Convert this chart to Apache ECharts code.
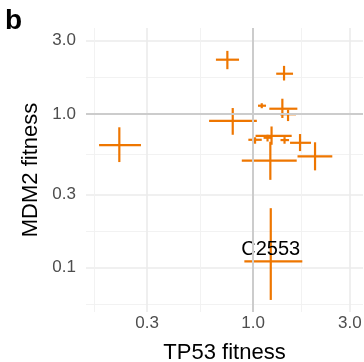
<!DOCTYPE html>
<html>
<head>
<meta charset="utf-8">
<script src="https://cdn.jsdelivr.net/npm/echarts@6/dist/echarts.min.js"></script>
<style>
  html, body { margin: 0; padding: 0; background: #fff; }
  #chart { width: 364px; height: 362px; }
</style>
</head>
<body>
<div id="chart"></div>
<script>
// fitness estimates with error bounds
var tp53   = [0.219, 0.747, 1.422, 1.104, 1.395, 1.488, 0.794, 1.234, 1.023, 1.179, 1.430, 1.705, 1.217, 2.022, 1.223];
var tp53Lo = [0.174, 0.656, 1.301, 1.058, 1.203, 1.359, 0.607, 1.029, 0.948, 1.127, 1.366, 1.522, 0.880, 1.657, 0.906];
var tp53Hi = [0.280, 0.853, 1.575, 1.159, 1.654, 1.629, 1.044, 1.551, 1.104, 1.241, 1.505, 1.932, 1.642, 2.460, 1.750];
var mdm2   = [0.628, 2.258, 1.830, 1.133, 1.083, 0.997, 0.904, 0.722, 0.680, 0.701, 0.677, 0.650, 0.498, 0.531, 0.110];
var mdm2Lo = [0.487, 1.958, 1.653, 1.091, 0.942, 0.900, 0.733, 0.631, 0.641, 0.663, 0.641, 0.574, 0.373, 0.430, 0.0617];
var mdm2Hi = [0.820, 2.577, 2.058, 1.176, 1.258, 1.067, 1.094, 0.830, 0.706, 0.733, 0.708, 0.741, 0.660, 0.655, 0.244];
var pointLabels = ["", "", "", "", "", "", "", "", "", "", "", "", "", "", "C2553"];

var xTicks = [0.3, 1, 3];
var yTicks = [0.1, 0.3, 1, 3];
var xRange = [0.150, 3.486];
var yRange = [0.0515, 3.63];

var FONT = "'Liberation Sans', Arial, Helvetica, sans-serif";
var ORANGE = "#EE7600";

var log10 = function (v) { return Math.log(v) / Math.LN10; };

// ggplot style minor breaks: midpoints between majors (log space)
function minorBreaks(major, lo, hi) {
  var b = major.filter(function (v) { return v >= lo && v <= hi; });
  var d = b[1] - b[0];
  if (lo < b[0]) b.unshift(b[0] - d);
  if (hi > b[b.length - 1]) b.push(b[b.length - 1] + d);
  var out = [];
  for (var i = 0; i < b.length - 1; i++) {
    var m = (b[i] + b[i + 1]) / 2;
    if (m >= lo && m <= hi) out.push(m);
  }
  return out;
}

var xMin = log10(xRange[0]), xMax = log10(xRange[1]);
var yMin = log10(yRange[0]), yMax = log10(yRange[1]);
var xMajor = xTicks.map(log10);
var yMajor = yTicks.map(log10);
var xMinor = minorBreaks(xMajor, xMin, xMax);
var yMinor = minorBreaks(yMajor, yMin, yMax);

var rows = tp53.map(function (v, i) {
  return [log10(v), log10(tp53Lo[i]), log10(tp53Hi[i]), log10(mdm2[i]), log10(mdm2Lo[i]), log10(mdm2Hi[i]), pointLabels[i]];
});

var fmt = function (v) { return Math.pow(10, v).toFixed(1); };

var chart = echarts.init(document.getElementById("chart"));

chart.setOption({
  backgroundColor: "#ffffff",
  animation: false,
  grid: { left: 86, right: 1, top: 28, bottom: 50, containLabel: false, outerBoundsMode: "none" },
  xAxis: [
    {
      type: "value",
      min: xMin,
      max: xMax,
      position: "bottom",
      name: "TP53 fitness",
      nameLocation: "middle",
      nameGap: 30,
      nameTextStyle: { color: "#000", fontSize: 22, fontFamily: FONT },
      axisLine: { show: false },
      axisTick: { show: false, customValues: xMajor },
      axisLabel: {
        customValues: xMajor,
        formatter: fmt,
        color: "#4d4d4d",
        fontSize: 17,
        fontFamily: FONT,
        margin: 3
      },
      splitLine: { show: true, lineStyle: { color: "#ebebeb", width: 1.6 } }
    },
    {
      type: "value",
      min: xMin,
      max: xMax,
      position: "top",
      axisLine: { show: false },
      axisTick: { show: false, customValues: xMinor },
      axisLabel: { show: false },
      splitLine: { show: true, lineStyle: { color: "#f0f0f0", width: 0.9 } }
    }
  ],
  yAxis: [
    {
      type: "value",
      min: yMin,
      max: yMax,
      position: "left",
      name: "MDM2 fitness",
      nameLocation: "middle",
      nameGap: 41,
      nameTextStyle: { color: "#000", fontSize: 22, fontFamily: FONT },
      axisLine: { show: false },
      axisTick: { show: false, customValues: yMajor },
      axisLabel: {
        customValues: yMajor,
        formatter: fmt,
        color: "#4d4d4d",
        fontSize: 17,
        fontFamily: FONT,
        margin: 10
      },
      splitLine: { show: true, lineStyle: { color: "#ebebeb", width: 1.6 } }
    },
    {
      type: "value",
      min: yMin,
      max: yMax,
      position: "right",
      axisLine: { show: false },
      axisTick: { show: false, customValues: yMinor },
      axisLabel: { show: false },
      splitLine: { show: true, lineStyle: { color: "#f0f0f0", width: 0.9 } }
    }
  ],
  graphic: [
    {
      type: "text",
      left: 5,
      top: 7,
      style: { text: "b", font: "bold 28px " + FONT, fill: "#000" }
    }
  ],
  series: [
    {
      // reference lines at fitness = 1
      type: "line",
      xAxisIndex: 0,
      yAxisIndex: 0,
      data: [[0, 0]],
      showSymbol: false,
      lineStyle: { width: 0 },
      silent: true,
      z: 1,
      markLine: {
        silent: true,
        symbol: "none",
        label: { show: false },
        lineStyle: { color: "#cccccc", width: 2, type: "solid" },
        data: [{ xAxis: 0 }, { yAxis: 0 }]
      }
    },
    {
      type: "custom",
      xAxisIndex: 0,
      yAxisIndex: 0,
      z: 3,
      encode: { x: [0, 1, 2], y: [3, 4, 5] },
      data: rows,
      renderItem: function (params, api) {
        var x = api.value(0), xlo = api.value(1), xhi = api.value(2);
        var y = api.value(3), ylo = api.value(4), yhi = api.value(5);
        var lbl = rows[params.dataIndex][6];
        var c = api.coord([x, y]);
        var h0 = api.coord([xlo, y]), h1 = api.coord([xhi, y]);
        var v0 = api.coord([x, ylo]), v1 = api.coord([x, yhi]);
        var st = { stroke: ORANGE, lineWidth: 2.2, lineCap: "butt" };
        var children = [
          { type: "line", shape: { x1: h0[0], y1: h0[1], x2: h1[0], y2: h1[1] }, style: st },
          { type: "line", shape: { x1: v0[0], y1: v0[1], x2: v1[0], y2: v1[1] }, style: st }
        ];
        if (lbl) {
          children.push({
            type: "text",
            x: c[0],
            y: c[1] - 2,
            style: {
              text: lbl,
              fill: "#000",
              font: "20px " + FONT,
              align: "center",
              verticalAlign: "bottom"
            },
            z2: 10
          });
        }
        return { type: "group", children: children };
      }
    }
  ]
});
</script>
</body>
</html>
